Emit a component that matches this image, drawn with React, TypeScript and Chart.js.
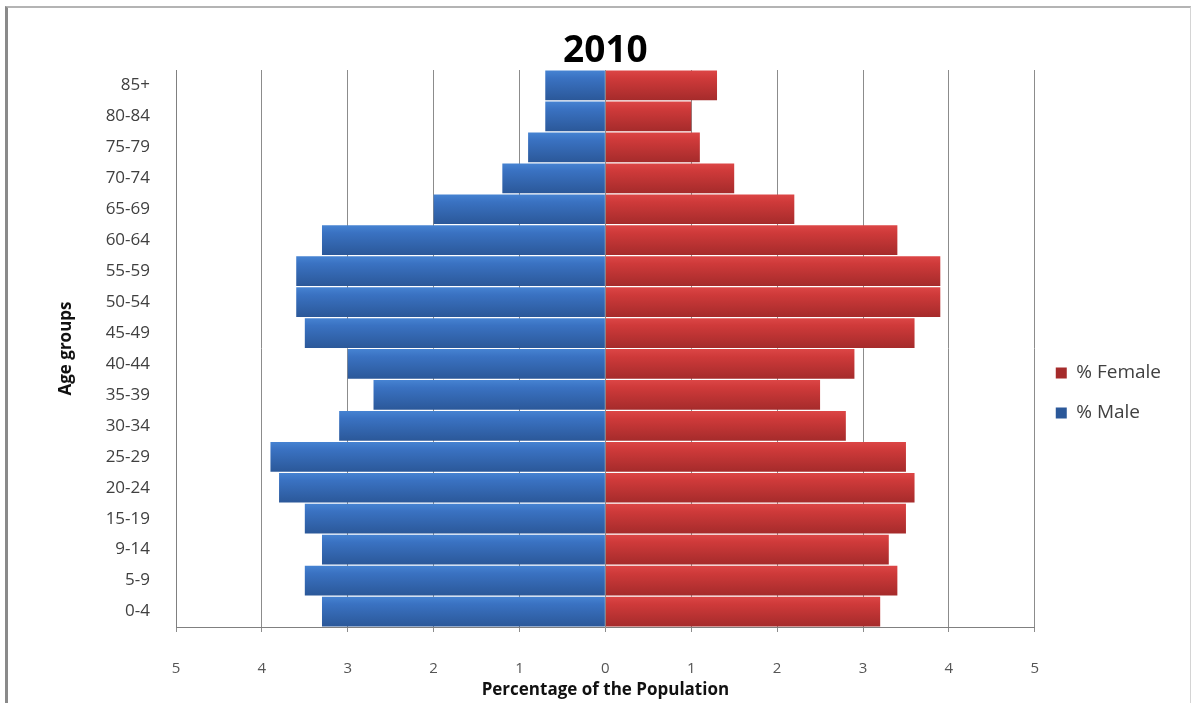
import React, { useEffect, useRef } from "react";
import { Chart, registerables } from "chart.js";
Chart.register(...registerables);

const ageGroups = ["85+", "80-84", "75-79", "70-74", "65-69", "60-64", "55-59", "50-54", "45-49", "40-44", "35-39", "30-34", "25-29", "20-24", "15-19", "9-14", "5-9", "0-4"];
const malePct = [0.7, 0.7, 0.9, 1.2, 2.0, 3.3, 3.6, 3.6, 3.5, 3.0, 2.7, 3.1, 3.9, 3.8, 3.5, 3.3, 3.5, 3.3];
const femalePct = [1.3, 1.0, 1.1, 1.5, 2.2, 3.4, 3.9, 3.9, 3.6, 2.9, 2.5, 2.8, 3.5, 3.6, 3.5, 3.3, 3.4, 3.2];
const xTicks = [-5, -4, -3, -2, -1, 0, 1, 2, 3, 4, 5];

const FONT = "'Open Sans', 'DejaVu Sans', sans-serif";
const BAR_PCT = 0.96;

function gradientFill(stops: string[], solid: string) {
  return (ctx: any) => {
    const chart = ctx.chart;
    if (!chart.chartArea || ctx.dataIndex === undefined) return solid;
    const y = chart.scales.y;
    const c = y.getPixelForValue(ctx.dataIndex);
    const h = (y.height / ageGroups.length) * BAR_PCT;
    const g = chart.ctx.createLinearGradient(0, c - h / 2, 0, c + h / 2);
    g.addColorStop(0, stops[0]);
    g.addColorStop(0.25, stops[1]);
    g.addColorStop(1, stops[2]);
    return g;
  };
}

export default function App() {
  const ref = useRef<HTMLCanvasElement | null>(null);
  useEffect(() => {
    if (!ref.current) return;
    const chart = new Chart(ref.current, {
      type: "bar",
      data: {
        labels: ageGroups,
        datasets: [
          {
            label: "% Male",
            data: malePct.map((v) => -v),
            backgroundColor: gradientFill(["#4683d2", "#3a72c2", "#2b5899"], "#3a70c0"),
            borderWidth: 0,
            barPercentage: BAR_PCT,
            categoryPercentage: 1,
          },
          {
            label: "% Female",
            data: femalePct,
            backgroundColor: gradientFill(["#dc4646", "#cf3a3a", "#a52b2b"], "#c83636"),
            borderWidth: 0,
            barPercentage: BAR_PCT,
            categoryPercentage: 1,
          },
        ],
      },
      options: {
        indexAxis: "y",
        responsive: false,
        animation: false,
        layout: { padding: { top: 0, left: 0, right: 25, bottom: 0 } },
        plugins: {
          title: {
            display: true,
            text: "2010",
            fullSize: false,
            color: "#000",
            font: { family: FONT, size: 37, weight: "bold", lineHeight: 1 },
            padding: { top: 33, bottom: 0 },
          },
          legend: {
            position: "right",
            reverse: true,
            title: { display: true, text: "", font: { size: 1, lineHeight: 1 }, padding: { top: 82, bottom: 0 } },
            labels: {
              boxWidth: 11,
              boxHeight: 11,
              padding: 21,
              color: "#404040",
              font: { family: FONT, size: 19 },
            },
          },
          tooltip: { enabled: false },
        },
        scales: {
          x: {
            stacked: true,
            min: -5,
            max: 5,
            afterFit: (s: any) => {
              s.height = 76;
            },
            afterBuildTicks: (s: any) => {
              s.ticks = xTicks.map((v) => ({ value: v }));
            },
            ticks: {
              callback: (v: any) => String(Math.abs(Number(v))),
              color: "#555555",
              font: { family: FONT, size: 15 },
              padding: 28,
            },
            grid: { color: "#8c8c8c", lineWidth: 1, tickLength: 5, tickColor: "#8c8c8c" },
            border: { display: true, color: "#808080", width: 1 },
            title: {
              display: true,
              text: "Percentage of the Population",
              color: "#111",
              font: { family: FONT, size: 17, weight: "bold", lineHeight: 1.2 },
              padding: { top: 0, bottom: 3 },
            },
          },
          y: {
            stacked: true,
            afterFit: (s: any) => {
              s.width = 176;
            },
            ticks: {
              color: "#404040",
              font: { family: FONT, size: 17 },
              padding: 26,
            },
            grid: { display: false, drawTicks: false },
            border: { display: true, color: "#808080", width: 1 },
            title: {
              display: true,
              text: "Age groups",
              color: "#111",
              font: { family: FONT, size: 17, weight: "bold", lineHeight: 1.2 },
              padding: { top: 56, bottom: 0 },
            },
          },
        },
      },
    });
    return () => chart.destroy();
  }, []);

  return (
    <div style={{ position: "fixed", left: 0, top: 0, width: 1196, height: 703, background: "#fff", overflow: "hidden" }}>
      <div
        style={{
          position: "absolute",
          left: 5,
          top: 6,
          width: 1182,
          height: 760,
          borderLeft: "3px solid #8a8a8a",
          borderTop: "2px solid #b4b4b4",
          borderRight: "1px solid #d4d4d4",
        }}
      />
      <canvas ref={ref} width={1196} height={703} style={{ position: "absolute", left: 0, top: 0 }} />
    </div>
  );
}
